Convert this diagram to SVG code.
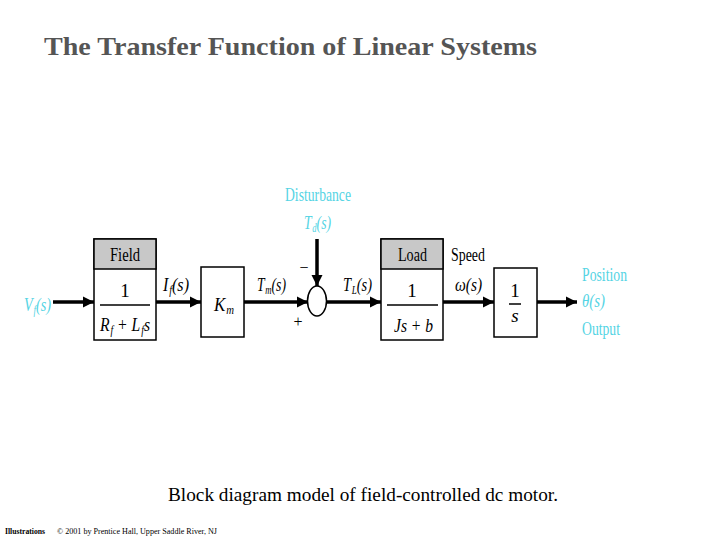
<svg xmlns="http://www.w3.org/2000/svg" width="720" height="540" viewBox="0 0 720 540">
<style>
.t{font-family:"Liberation Serif","Times New Roman",serif;fill:#000}
.i{font-style:italic}
.c{fill:#55d4e4}
.box{fill:#fff;stroke:#000;stroke-width:1.5}
.hdr{fill:#c8c8c8;stroke:#000;stroke-width:1.5}
.ln{stroke:#000;stroke-width:3.5;fill:none}
.fr{stroke:#000;stroke-width:1.5}
</style>
<defs>
<marker id="ah" viewBox="0 0 10 10" refX="10" refY="5" markerWidth="3.2" markerHeight="3.2" orient="auto" markerUnits="strokeWidth">
<path d="M0,0 L10,5 L0,10 z" fill="#000"/>
</marker>
</defs>
<rect width="720" height="540" fill="#fff"/>
<text x="44" y="55" font-family="'Liberation Serif','Times New Roman',serif" font-weight="bold" font-size="25" fill="#555" textLength="493" lengthAdjust="spacingAndGlyphs">The Transfer Function of Linear Systems</text>

<g id="connectors">
<line class="ln" x1="53" y1="302" x2="94" y2="302" marker-end="url(#ah)"/>
<line class="ln" x1="156" y1="302" x2="201" y2="302" marker-end="url(#ah)"/>
<line class="ln" x1="244" y1="302" x2="308" y2="302" marker-end="url(#ah)"/>
<line class="ln" x1="317" y1="239" x2="317" y2="286" marker-end="url(#ah)"/>
<line class="ln" x1="327" y1="302" x2="381" y2="302" marker-end="url(#ah)"/>
<line class="ln" x1="443" y1="302" x2="494" y2="302" marker-end="url(#ah)"/>
<line class="ln" x1="537" y1="302" x2="577" y2="302" marker-end="url(#ah)"/>
</g>

<g id="input">
<text class="t i c" x="24" y="311" font-size="19" textLength="27" lengthAdjust="spacingAndGlyphs">V<tspan font-size="12" dx="1" dy="3">f</tspan><tspan dy="-3">(s)</tspan></text>
</g>

<g id="field">
<rect class="box" x="94" y="239" width="62" height="101"/>
<rect class="hdr" x="94" y="239" width="62" height="30"/>
<text class="t" x="110" y="261" font-size="19" textLength="30" lengthAdjust="spacingAndGlyphs">Field</text>
<text class="t" x="125" y="297" font-size="19" text-anchor="middle">1</text>
<line class="fr" x1="100" y1="305" x2="150" y2="305"/>
<text class="t i" x="100" y="331" font-size="19" textLength="50" lengthAdjust="spacingAndGlyphs">R<tspan font-size="12" dx="1" dy="3">f</tspan><tspan dy="-3"> + L</tspan><tspan font-size="12" dx="1" dy="3">f</tspan><tspan dy="-3">s</tspan></text>
</g>

<g id="if-label">
<text class="t i" x="163" y="291" font-size="19" textLength="26" lengthAdjust="spacingAndGlyphs">I<tspan font-size="12" dx="1" dy="3">f</tspan><tspan dy="-3">(s)</tspan></text>
</g>

<g id="km">
<rect class="box" x="201" y="267" width="43" height="70"/>
<text class="t i" x="214" y="311" font-size="19" textLength="20" lengthAdjust="spacingAndGlyphs">K<tspan font-size="12" dx="1" dy="3">m</tspan></text>
</g>

<g id="tm-label">
<text class="t i" x="257" y="291" font-size="19" textLength="29" lengthAdjust="spacingAndGlyphs">T<tspan font-size="12" dx="1" dy="3">m</tspan><tspan dy="-3">(s)</tspan></text>
</g>

<g id="disturbance">
<text class="t c" x="285" y="201" font-size="19" textLength="66" lengthAdjust="spacingAndGlyphs">Disturbance</text>
<text class="t i c" x="304" y="229" font-size="19" textLength="27" lengthAdjust="spacingAndGlyphs">T<tspan font-size="12" dx="1" dy="3">d</tspan><tspan dy="-3">(s)</tspan></text>
</g>

<g id="sum">
<ellipse cx="317" cy="301" rx="9.5" ry="15" fill="#fff" stroke="#000" stroke-width="1.5"/>
<text class="t" x="304" y="273" font-size="16" text-anchor="middle">−</text>
<text class="t" x="298" y="327" font-size="16" text-anchor="middle">+</text>
</g>

<g id="tl-label">
<text class="t i" x="343" y="291" font-size="19" textLength="29" lengthAdjust="spacingAndGlyphs">T<tspan font-size="12" dx="1" dy="3">L</tspan><tspan dy="-3">(s)</tspan></text>
</g>

<g id="load">
<rect class="box" x="381" y="239" width="62" height="101"/>
<rect class="hdr" x="381" y="239" width="62" height="30"/>
<text class="t" x="398" y="261" font-size="19" textLength="29" lengthAdjust="spacingAndGlyphs">Load</text>
<text class="t" x="412" y="297" font-size="19" text-anchor="middle">1</text>
<line class="fr" x1="387" y1="305" x2="438" y2="305"/>
<text class="t i" x="394" y="332" font-size="19" textLength="39" lengthAdjust="spacingAndGlyphs">Js + b</text>
</g>

<g id="speed-label">
<text class="t" x="451" y="261" font-size="19" textLength="34" lengthAdjust="spacingAndGlyphs">Speed</text>
<text class="t i" x="455" y="291" font-size="19" textLength="27" lengthAdjust="spacingAndGlyphs">ω(s)</text>
</g>

<g id="integrator">
<rect class="box" x="494" y="268" width="43" height="69"/>
<text class="t" x="515" y="297" font-size="19" text-anchor="middle">1</text>
<line class="fr" x1="509" y1="304" x2="521" y2="304"/>
<text class="t i" x="515" y="322" font-size="19" text-anchor="middle">s</text>
</g>

<g id="output">
<text class="t c" x="582" y="281" font-size="19" textLength="45" lengthAdjust="spacingAndGlyphs">Position</text>
<text class="t i c" x="582" y="307" font-size="19" textLength="23" lengthAdjust="spacingAndGlyphs">θ(s)</text>
<text class="t c" x="582" y="335" font-size="19" textLength="38" lengthAdjust="spacingAndGlyphs">Output</text>
</g>

<text class="t" x="168" y="501" font-size="19" textLength="390" lengthAdjust="spacingAndGlyphs">Block diagram model of field-controlled dc motor.</text>
<text class="t" x="5" y="534" font-size="8" font-weight="bold" textLength="40" lengthAdjust="spacingAndGlyphs">Illustrations</text>
<text class="t" x="57" y="534" font-size="8" textLength="160" lengthAdjust="spacingAndGlyphs">© 2001 by Prentice Hall, Upper Saddle River, NJ</text>
</svg>
